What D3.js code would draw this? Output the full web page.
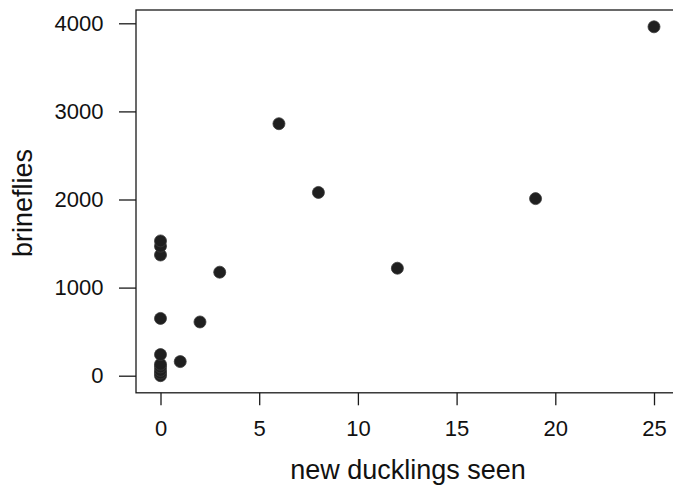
<!DOCTYPE html>
<html>
<head>
<meta charset="utf-8">
<script src="https://cdn.jsdelivr.net/npm/d3@7"></script>
<style>
  html, body { margin: 0; padding: 0; background: #fff; }
  svg { display: block; }
</style>
</head>
<body>
<svg id="chart" width="673" height="487"></svg>
<script>
// ---- data ----
const ducklings = [0, 0, 0, 0, 0, 0, 0, 0, 0, 0, 1, 2, 3, 6, 8, 12, 19, 25];
const brineflies = [0, 30, 60, 100, 130, 240, 650, 1370, 1470, 1530, 160, 610, 1175, 2860, 2080, 1220, 2010, 3960];
const xTicks = [0, 5, 10, 15, 20, 25];
const yTicks = [0, 1000, 2000, 3000, 4000];
const xTitle = "new ducklings seen";
const yTitle = "brineflies";

const points = ducklings.map((d, i) => ({ x: d, y: brineflies[i] }));

const svg = d3.select("#chart");
const font = "'Liberation Sans', Arial, sans-serif";

const x = d3.scaleLinear().domain([0, 25]).range([160.5, 654]);
const y = d3.scaleLinear().domain([0, 4000]).range([375.7, 23.3]);

const box = { left: 136, top: 10, right: 680, bottom: 392.8 };

// plot box
svg.append("rect")
  .attr("x", box.left).attr("y", box.top)
  .attr("width", box.right - box.left).attr("height", box.bottom - box.top)
  .attr("fill", "none").attr("stroke", "#1a1a1a").attr("stroke-width", 1.3);

// x axis
const gx = svg.append("g")
  .attr("transform", `translate(0,${box.bottom})`)
  .call(d3.axisBottom(x).tickValues(xTicks).tickFormat(d3.format("d"))
    .tickSize(12.5).tickSizeOuter(0).tickPadding(15));
gx.select(".domain").remove();
gx.selectAll(".tick line").attr("stroke", "#1a1a1a").attr("stroke-width", 1.3);
gx.selectAll(".tick text").attr("font-family", font).attr("font-size", 22).attr("fill", "#111");

// y axis
const gy = svg.append("g")
  .attr("transform", `translate(${box.left},0)`)
  .call(d3.axisLeft(y).tickValues(yTicks).tickFormat(d3.format("d"))
    .tickSize(17).tickSizeOuter(0).tickPadding(15.5));
gy.select(".domain").remove();
gy.selectAll(".tick line").attr("stroke", "#1a1a1a").attr("stroke-width", 1.3);
gy.selectAll(".tick text").attr("font-family", font).attr("font-size", 22).attr("fill", "#111");

// points
svg.append("g").selectAll("circle")
  .data(points)
  .join("circle")
  .attr("cx", d => x(d.x))
  .attr("cy", d => y(d.y))
  .attr("r", 6)
  .attr("fill", "#1f1f1f")
  .attr("stroke", "#3a3a3a")
  .attr("stroke-width", 0.8);

// axis titles
svg.append("text")
  .attr("x", 408).attr("y", 479)
  .attr("text-anchor", "middle")
  .attr("font-family", font).attr("font-size", 27).attr("fill", "#111")
  .text(xTitle);

svg.append("text")
  .attr("transform", "translate(31.5,203) rotate(-90)")
  .attr("text-anchor", "middle")
  .attr("font-family", font).attr("font-size", 27).attr("fill", "#111")
  .text(yTitle);
</script>
</body>
</html>
